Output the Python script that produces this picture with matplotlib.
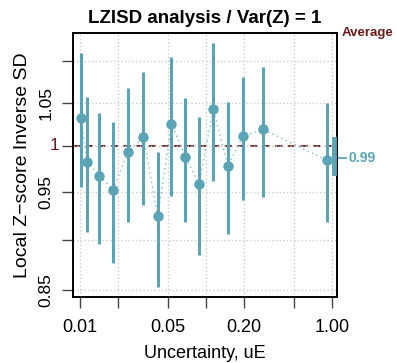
import numpy as np
import matplotlib
matplotlib.use("Agg")
import matplotlib.pyplot as plt

plt.rcParams['font.family'] = ['Liberation Sans', 'DejaVu Sans']

# data
uE = [0.0102, 0.0114, 0.0142, 0.0182, 0.0240, 0.0319, 0.0414, 0.0532,
      0.0687, 0.0880, 0.1143, 0.1495, 0.1967, 0.2818, 0.918]
lzisd = [1.032, 0.982, 0.967, 0.952, 0.993, 1.010, 0.924, 1.025,
         0.988, 0.958, 1.042, 0.978, 1.011, 1.019, 0.984]
ci_lo = [0.955, 0.908, 0.896, 0.877, 0.918, 0.936, 0.853, 0.945,
         0.918, 0.885, 0.961, 0.906, 0.941, 0.944, 0.918]
ci_hi = [1.110, 1.057, 1.038, 1.027, 1.067, 1.087, 0.993, 1.105,
         1.055, 1.033, 1.123, 1.051, 1.081, 1.093, 1.050]
avg = 0.987
avg_lo, avg_hi = 0.970, 1.008

xticks = [0.01, 0.02, 0.05, 0.1, 0.2, 0.5, 1.0]
xlabels = ['0.01', '', '0.05', '', '0.20', '', '1.00']
yticks = [0.85, 0.90, 0.95, 1.0, 1.05, 1.10]
ylabels = ['0.85', '', '0.95', '', '1.05', '']

teal = '#5aa4b5'
dred = '#6b1a1a'

fig = plt.figure(figsize=(3.97, 3.63), dpi=100)
ax = fig.add_axes([0.1839, 0.1818, 0.665, 0.7273])
ax.set_xscale('log')
ax.set_yscale('log')

ax.plot(uE, lzisd, linestyle=(0, (1, 2.5)), color='#7fbccb', lw=1, zorder=2)
ax.vlines(uE, ci_lo, ci_hi, color=teal, lw=2.2, zorder=3)
ax.plot(uE, lzisd, 'o', color=teal, ms=7.5, mec='none', zorder=4)
ax.axhline(1.0, color=dred, ls=(0, (4, 3)), lw=1.3, zorder=1)

ax.set_xlim(0.0088, 1.0957)
ax.set_ylim(0.8438, 1.1355)
ax.minorticks_off()
ax.set_xticks(xticks)
ax.set_xticklabels(xlabels, fontsize=13)
ax.set_yticks(yticks)
ax.set_yticklabels(ylabels, fontsize=12.5, rotation=90, va='center')
ax.tick_params(axis='both', length=8, width=1, color='#444444')
ax.tick_params(axis='x', pad=8)
ax.tick_params(axis='y', pad=6)
ax.yaxis.get_major_ticks()[3].tick1line.set_color(dred)
ax.grid(True, which='major', color='#cccccc', ls=':', lw=1)
for s in ax.spines.values():
    s.set_linewidth(1.4)

ax.text(-0.05, 1.0, '1', transform=ax.get_yaxis_transform(), color=dred,
        fontsize=12.5, ha='right', va='center')

# average on the right edge
tr = ax.get_yaxis_transform()
ax.plot([0.99, 0.99], [avg_lo, avg_hi], transform=tr, color=teal, lw=3.5,
        clip_on=False, zorder=5)
ax.plot([1.0, 1.035], [avg, avg], transform=tr, color=teal, lw=1.3, clip_on=False)
ax.text(1.045, avg, '0.99', transform=tr, color=teal, fontsize=10,
        fontweight='bold', ha='left', va='center')
ax.text(1.018, 1.0, 'Average', transform=ax.transAxes, color=dred, fontsize=9.5,
        fontweight='bold', ha='left', va='center')

ax.set_title('LZISD analysis / Var(Z) = 1', fontsize=13.5, fontweight='bold', pad=7)
ax.set_xlabel('Uncertainty, uE', fontsize=13)
ax.set_ylabel('Local Z\u2212score Inverse SD', fontsize=14)
ax.xaxis.set_label_coords(0.5, -0.183)
ax.yaxis.set_label_coords(-0.16, 0.5)

fig.savefig('out.png', dpi=100)
